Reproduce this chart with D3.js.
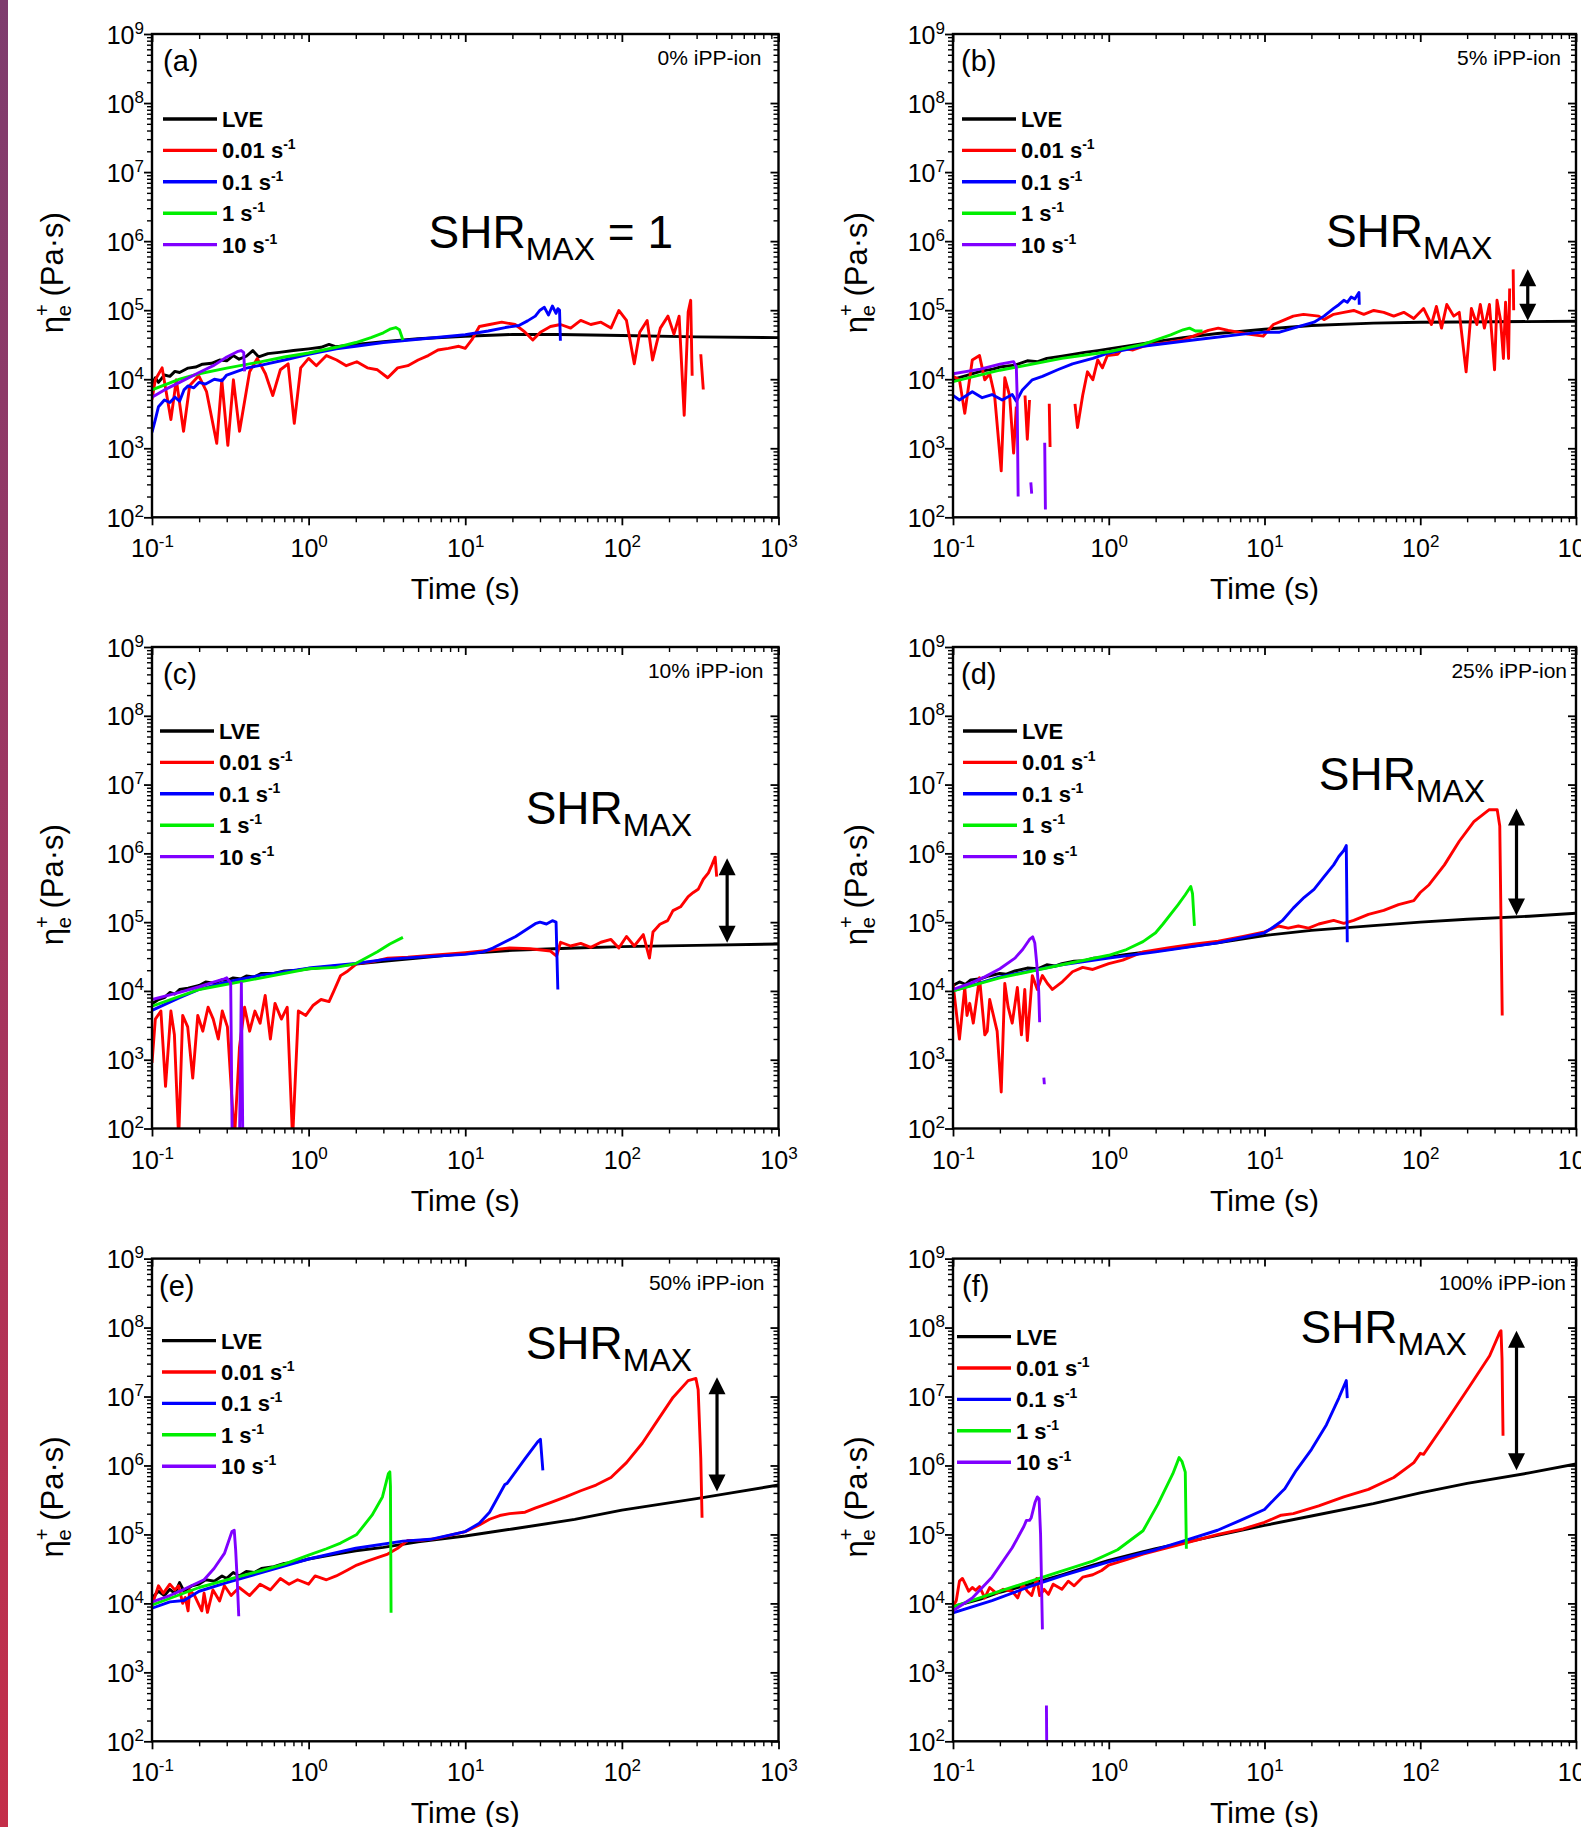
<!DOCTYPE html>
<html>
<head>
<meta charset="utf-8">
<script src="https://cdn.jsdelivr.net/npm/d3@7"></script>
<style>
  html, body { margin: 0; padding: 0; background: #fff; }
  svg { display: block; }
  text { font-family: "Liberation Sans", Arial, Helvetica, sans-serif; fill: #000; }
</style>
</head>
<body>
<svg id="fig" width="1581" height="1827"></svg>
<script>
// ---------------------------------------------------------------
// Transient extensional viscosity, eta_e+ (Pa·s) versus time (s)
// Each series: [time, viscosity]; null marks a break in the trace.
// ---------------------------------------------------------------

// axis ticks
const xExponents = [-1, 0, 1, 2, 3];
const yExponents = [2, 3, 4, 5, 6, 7, 8, 9];

// series legend
const seriesLabels = ["LVE", "0.01", "0.1", "1", "10"];
const seriesColors = ["#000000", "#ff0000", "#0000ff", "#00ee00", "#8000ff"];

// panel texts
const panelLetters = ["(a)", "(b)", "(c)", "(d)", "(e)", "(f)"];
const blendLabels = ["0% iPP-ion", "5% iPP-ion", "10% iPP-ion", "25% iPP-ion", "50% iPP-ion", "100% iPP-ion"];

// ---------- (a) 0% iPP-ion ----------
const lve_a = [[0.1,8.5e3],[0.105,1.05e4],[0.11,9e3],[0.12,1.15e4],[0.13,1.1e4],[0.14,1.3e4],[0.15,1.25e4],[0.17,1.45e4],[0.19,1.5e4],[0.21,1.65e4],[0.24,1.7e4],[0.27,1.9e4],[0.3,1.85e4],[0.33,2.2e4],[0.36,1.95e4],[0.4,2.15e4],[0.44,2.6e4],[0.48,2.1e4],[0.55,2.35e4],[0.65,2.45e4],[0.8,2.6e4],[1,2.75e4],[1.2,2.9e4],[1.35,3.2e4],[1.5,2.95e4],[2,3.2e4],[3,3.5e4],[5,3.85e4],[10,4.2e4],[20,4.45e4],[40,4.45e4],[100,4.3e4],[300,4.1e4],[1000,4.0e4]];
const rate001_a = [[0.1,5.1e3],[0.105,9.8e3],[0.116,1.46e4],[0.132,2.6e3],[0.143,9.8e3],[0.159,1.76e3],[0.174,8.1e3],[0.199,1.12e4],[0.223,6.6e3],[0.259,1.18e3],[0.279,9.8e3],[0.305,1.1e3],[0.331,9.8e3],[0.362,1.76e3],[0.42,1.28e4],[0.47,2.0e4],[0.53,1.2e4],[0.59,5.8e3],[0.66,1.37e4],[0.74,1.67e4],[0.81,2.3e3],[0.89,1.46e4],[1.0,2.0e4],[1.12,1.57e4],[1.3,2.2e4],[1.51,1.9e4],[1.74,1.57e4],[2.03,1.79e4],[2.37,1.46e4],[2.75,1.37e4],[3.2,1.05e4],[3.7,1.46e4],[4.3,1.57e4],[5.0,1.9e4],[5.8,2.2e4],[6.7,2.65e4],[7.8,2.8e4],[9.1,3.0e4],[10,2.8e4],[11,3.7e4],[12.3,5.8e4],[14.3,6.2e4],[17.1,6.7e4],[20.8,6.2e4],[24.1,4.8e4],[27,3.7e4],[30.2,4.8e4],[35,5.8e4],[40.6,6.2e4],[47.1,5.5e4],[54.6,7.1e4],[63.3,6.2e4],[73.5,6.7e4],[85.2,5.5e4],[95.6,9.9e4],[107,7.1e4],[120,1.67e4],[130,4.8e4],[145,7.1e4],[157,1.9e4],[176,5.5e4],[197,8.2e4],[215,4.5e4],[232,8.2e4],[250,3.0e3],[265,9.4e4],[275,1.39e5],[281,1.12e4],null,[319,2.3e4],[331,7.1e3]];
const rate01_a = [[0.1,1.7e3],[0.105,2.6e3],[0.11,4e3],[0.12,5e3],[0.13,4.6e3],[0.14,5.5e3],[0.15,4.8e3],[0.16,7e3],[0.17,8e3],[0.185,7.5e3],[0.2,9e3],[0.22,8.5e3],[0.25,1.0e4],[0.28,9.5e3],[0.3,1.15e4],[0.35,1.3e4],[0.4,1.45e4],[0.5,1.6e4],[0.7,1.9e4],[1,2.3e4],[1.5,2.75e4],[2,3.0e4],[3,3.4e4],[5,3.8e4],[10,4.4e4],[14,5.0e4],[18,5.6e4],[22,6.0e4],[25,7.0e4],[28,8.2e4],[30,1.0e5],[32,1.1e5],[34,8.5e4],[36,1.15e5],[38,9e4],[39,1.05e5],[40,1e5],[40.5,3.6e4]];
const rate1_a = [[0.1,7e3],[0.15,1.0e4],[0.2,1.2e4],[0.3,1.45e4],[0.5,1.8e4],[0.7,2.1e4],[1,2.4e4],[1.5,2.9e4],[2,3.4e4],[2.5,4.0e4],[3,4.7e4],[3.3,5.3e4],[3.6,5.6e4],[3.8,5.2e4],[4.0,3.7e4]];
const rate10_a = [[0.1,5.5e3],[0.12,7e3],[0.15,9e3],[0.2,1.25e4],[0.25,1.6e4],[0.3,2.1e4],[0.35,2.5e4],[0.37,2.6e4],[0.385,2.45e4],[0.39,1.3e4]];

// ---------- (b) 5% iPP-ion ----------
const lve_b = [[0.1,1.0e4],[0.12,1.12e4],[0.15,1.3e4],[0.18,1.4e4],[0.2,1.5e4],[0.25,1.6e4],[0.3,1.85e4],[0.35,1.8e4],[0.4,2.0e4],[0.5,2.15e4],[0.6,2.3e4],[0.7,2.45e4],[0.85,2.6e4],[1,2.75e4],[2,3.5e4],[3,4.0e4],[5,4.6e4],[10,5.3e4],[20,6.0e4],[50,6.5e4],[100,6.7e4],[300,6.8e4],[1000,6.9e4]];
const rate001_b = [[0.1,1.1e4],[0.11,9.8e3],[0.119,3.2e3],[0.133,1.9e4],[0.148,2.2e4],[0.16,9.8e3],[0.172,1.2e4],[0.185,5.8e3],[0.204,4.7e2],[0.215,1.05e4],[0.231,5.8e3],[0.245,8.5e2],[0.255,4.0e3],null,[0.29,5.8e3],[0.3,1.35e3],[0.31,5.0e3],null,[0.415,4.4e3],[0.42,1.04e3],null,[0.607,4.4e3],[0.63,2.0e3],[0.68,5.8e3],[0.73,1.28e4],[0.79,9.8e3],[0.85,1.9e4],[0.91,1.46e4],[0.98,2.2e4],[1.14,2.3e4],[1.23,2.8e4],[1.43,2.65e4],[1.66,3.0e4],[1.92,3.2e4],[2.39,3.4e4],[2.99,3.7e4],[3.49,4.2e4],[4.36,5.1e4],[5.05,5.5e4],[5.85,5.1e4],[6.78,4.8e4],[7.86,4.5e4],[9.8,4.2e4],[11.4,6.2e4],[13.2,7.1e4],[15.3,8.2e4],[17.8,8.7e4],[22.3,8.2e4],[24.1,7.3e4],[27.8,8.7e4],[32.3,9.3e4],[37.4,9.9e4],[43.4,8.7e4],[50.3,9.9e4],[58.3,9.3e4],[67.6,8.2e4],[78.4,9.3e4],[90.9,7.6e4],[105,1.06e5],[118,6.2e4],[127,1.13e5],[137,5.5e4],[148,1.21e5],[164,8.2e4],[178,9.3e4],[197,1.28e4],[213,1.06e5],[231,6.2e4],[243,1.21e5],[258,5.5e4],[278,1.21e5],[300,1.37e4],[311,1.39e5],[328,7.1e4],[342,2.0e4],[353,1.3e5],[369,2.0e4],[375,2.06e5],null,[395,3.9e5],[398,1.0e5]];
const rate01_b = [[0.1,5.8e3],[0.11,5.0e3],[0.133,6.6e3],[0.154,5.4e3],[0.178,6.0e3],[0.207,5.0e3],[0.24,6.0e3],[0.255,4.8e3],[0.279,7.0e3],[0.323,9.8e3],[0.375,1.1e4],[0.47,1.37e4],[0.585,1.67e4],[0.79,2.0e4],[1.0,2.4e4],[1.66,3.0e4],[3.49,3.7e4],[7.3,4.5e4],[10,4.8e4],[12.5,4.8e4],[15.3,5.5e4],[20.8,6.7e4],[24.1,8.2e4],[27.8,1.06e5],[30,1.2e5],[32.3,1.39e5],[34,1.3e5],[36,1.55e5],[38,1.45e5],[40.4,1.8e5],[40.6,1.2e5]];
const rate1_b = [[0.1,9.2e3],[0.2,1.35e4],[0.5,2.0e4],[1,2.5e4],[1.66,3.2e4],[2.5,4.4e4],[3.0,5.2e4],[3.3,5.5e4],[3.6,5.0e4],[4.0,5.0e4]];
const rate10_b = [[0.1,1.2e4],[0.15,1.4e4],[0.2,1.65e4],[0.23,1.75e4],[0.245,1.8e4],[0.255,1.5e4],[0.258,6e3],[0.262,2e2],null,[0.316,3.2e2],[0.32,2.2e2],null,[0.388,1.2e3],[0.392,1.3e2]];

// ---------- (c) 10% iPP-ion ----------
const lve_c = [[0.1,6.5e3],[0.11,7.5e3],[0.12,8e3],[0.13,9.5e3],[0.14,9e3],[0.15,1.05e4],[0.17,1.1e4],[0.2,1.2e4],[0.22,1.35e4],[0.25,1.3e4],[0.28,1.45e4],[0.3,1.4e4],[0.33,1.55e4],[0.37,1.5e4],[0.4,1.65e4],[0.45,1.6e4],[0.5,1.8e4],[0.6,1.8e4],[0.7,1.95e4],[0.85,2.0e4],[1,2.1e4],[1.5,2.3e4],[2,2.45e4],[3,2.7e4],[5,3.0e4],[10,3.5e4],[20,3.9e4],[50,4.2e4],[100,4.4e4],[300,4.6e4],[1000,4.8e4]];
const rate001_c = [[0.1,9e2],[0.105,3.9e3],[0.114,5.1e3],[0.122,4.1e2],[0.132,5.1e3],[0.139,2.3e3],[0.148,7e1],[0.157,4.4e3],[0.169,3.0e3],[0.182,5.4e2],[0.196,4.4e3],[0.211,2.6e3],[0.228,5.8e3],[0.246,3.9e3],[0.265,2.0e3],[0.281,5.1e3],[0.303,3.0e3],[0.336,7e1],[0.362,1.54e3],[0.39,5.8e3],[0.42,2.6e3],[0.454,5.1e3],[0.49,3.4e3],[0.528,8.6e3],[0.57,2.0e3],[0.61,6.6e3],[0.67,3.9e3],[0.73,5.8e3],[0.79,7e1],[0.86,5.1e3],[0.96,4.4e3],[1.07,6.2e3],[1.2,7.5e3],[1.35,7.0e3],[1.45,1.0e4],[1.6,1.67e4],[1.75,1.9e4],[2.03,2.5e4],[2.54,2.65e4],[3.2,3.0e4],[4.3,3.1e4],[6.2,3.3e4],[10,3.6e4],[14.3,3.9e4],[19.2,4.2e4],[26,4.1e4],[35,3.8e4],[38.3,3.2e4],[40.6,5.1e4],[47.1,4.5e4],[54.6,4.9e4],[63.3,4.3e4],[73.5,5.1e4],[85.2,5.6e4],[95.6,4.2e4],[107,6.2e4],[120,4.5e4],[137,6.6e4],[150,3.0e4],[158,7.2e4],[175,9.3e4],[196,1.05e5],[212,1.47e5],[237,1.67e5],[265,2.35e5],[286,2.7e5],[307,3.0e5],[331,4.2e5],[357,5.2e5],[376,6.8e5],[394,8.8e5],[403,4.6e5]];
const rate01_c = [[0.1,5.2e3],[0.15,8e3],[0.2,1.05e4],[0.3,1.35e4],[0.5,1.7e4],[1,2.15e4],[2,2.5e4],[3,2.85e4],[5,3.1e4],[10,3.4e4],[13,3.7e4],[15,4.2e4],[18,5.2e4],[21,6.2e4],[25,8e4],[28,9.5e4],[30,1.0e5],[33,9.4e4],[36,1.05e5],[38,1e5],[39,1.05e4]];
const rate1_c = [[0.1,6e3],[0.2,1.05e4],[0.5,1.55e4],[1,2.1e4],[1.5,2.2e4],[2,2.5e4],[2.75,3.7e4],[3.3,4.8e4],[4,6.0e4]];
const rate10_c = [[0.1,7.5e3],[0.15,9.5e3],[0.2,1.15e4],[0.25,1.35e4],[0.29,1.5e4],[0.3,1.55e4],[0.318,1.3e4],[0.325,7e1],null,[0.362,7e1],[0.372,1.3e4],[0.38,7e1]];

// ---------- (d) 25% iPP-ion ----------
const lve_d = [[0.1,1.2e4],[0.11,1.35e4],[0.12,1.25e4],[0.13,1.45e4],[0.15,1.5e4],[0.17,1.65e4],[0.2,1.8e4],[0.22,1.75e4],[0.25,1.95e4],[0.3,2.15e4],[0.35,2.1e4],[0.4,2.4e4],[0.45,2.3e4],[0.5,2.5e4],[0.6,2.7e4],[0.7,2.75e4],[0.8,3.0e4],[1,3.1e4],[1.3,3.4e4],[1.6,3.6e4],[2,3.8e4],[3,4.3e4],[5,5.0e4],[10,6.4e4],[20,7.6e4],[50,8.9e4],[100,1.0e5],[200,1.1e5],[500,1.22e5],[1000,1.35e5]];
const rate001_d = [[0.1,1.28e4],[0.11,2.0e3],[0.119,1.12e4],[0.123,4.4e3],[0.128,6.6e3],[0.135,3.4e3],[0.148,1.56e4],[0.16,2.3e3],[0.166,2.6e3],[0.172,7.5e3],[0.178,5.4e3],[0.192,2.6e3],[0.204,3.4e2],[0.215,1.28e4],[0.226,5.8e3],[0.24,3.4e3],[0.259,1.12e4],[0.275,2.3e3],[0.289,1.05e4],[0.3,1.9e3],[0.323,1.67e4],[0.348,1.05e4],[0.375,1.67e4],[0.404,1.28e4],[0.435,1.05e4],[0.505,1.37e4],[0.585,1.9e4],[0.68,2.2e4],[0.79,2.05e4],[1.0,2.5e4],[1.23,2.8e4],[1.66,3.7e4],[2.39,4.2e4],[3.49,4.8e4],[5.05,5.3e4],[7.3,6.2e4],[10,7.2e4],[12.3,8.8e4],[14.2,8.2e4],[16.5,8.8e4],[19.2,8.2e4],[22.3,9.4e4],[27.8,1.06e5],[32.3,9.6e4],[37.4,1.06e5],[46.5,1.3e5],[58.3,1.48e5],[72.5,1.8e5],[90.9,2.06e5],[100,2.7e5],[114,3.5e5],[143,6.8e5],[178,1.5e6],[221,2.9e6],[276,4.3e6],[312,4.3e6],[324,2.5e6],[336,4.4e3]];
const rate01_d = [[0.1,1.0e4],[0.2,1.6e4],[0.5,2.4e4],[1,3.0e4],[2,3.7e4],[5,5e4],[10,7.0e4],[11.4,8.5e4],[13,1.05e5],[15.3,1.6e5],[18,2.3e5],[20.8,3.0e5],[24,4.5e5],[27.8,6.8e5],[30,9e5],[32.3,1.1e6],[33.5,1.3e6],[34,5.1e4]];
const rate1_d = [[0.1,1.0e4],[0.2,1.55e4],[0.5,2.4e4],[1,3.3e4],[1.3,4.0e4],[1.66,5.2e4],[2.0,7.0e4],[2.23,9.4e4],[2.79,1.8e5],[3.1,2.5e5],[3.36,3.3e5],[3.45,2.6e5],[3.5,1.5e5],[3.55,8.8e4]];
const rate10_d = [[0.1,1.05e4],[0.13,1.3e4],[0.16,1.6e4],[0.2,2.1e4],[0.25,3.0e4],[0.28,4.0e4],[0.31,5.6e4],[0.325,6.1e4],[0.335,5.0e4],[0.345,2.5e4],[0.355,1.0e4],[0.36,3.5e3],null,[0.383,5.5e2],[0.386,4.4e2]];

// ---------- (e) 50% iPP-ion ----------
const lve_e = [[0.1,1.2e4],[0.11,1.5e4],[0.12,1.3e4],[0.13,1.6e4],[0.14,1.4e4],[0.15,2.0e4],[0.16,1.5e4],[0.18,1.8e4],[0.2,1.9e4],[0.22,2.2e4],[0.25,2.1e4],[0.28,2.5e4],[0.3,2.3e4],[0.33,2.8e4],[0.36,2.5e4],[0.4,2.9e4],[0.45,2.8e4],[0.5,3.2e4],[0.6,3.4e4],[0.7,3.8e4],[0.85,4.0e4],[1,4.4e4],[1.3,4.9e4],[1.6,5.3e4],[2,5.8e4],[3,6.5e4],[5,7.8e4],[10,9.5e4],[20,1.2e5],[50,1.65e5],[100,2.25e5],[300,3.3e5],[500,4.0e5],[1000,5.2e5]];
const rate001_e = [[0.1,9.5e3],[0.105,1.3e4],[0.11,1.8e4],[0.118,1.4e4],[0.13,1.9e4],[0.14,1.57e4],[0.148,1.8e4],[0.157,1.0e4],[0.163,1.22e4],[0.17,7.8e3],[0.174,1.57e4],[0.187,1.3e4],[0.208,7.8e3],[0.215,1.4e4],[0.226,7.4e3],[0.245,1.57e4],[0.27,1.08e4],[0.29,1.8e4],[0.32,1.3e4],[0.36,1.7e4],[0.42,1.3e4],[0.49,1.9e4],[0.57,1.57e4],[0.66,2.3e4],[0.75,1.9e4],[0.85,2.2e4],[1.0,1.9e4],[1.1,2.5e4],[1.3,2.2e4],[1.5,2.5e4],[1.75,3.0e4],[2.03,3.6e4],[2.37,4.1e4],[2.75,4.6e4],[3.2,5.2e4],[3.7,6.3e4],[4.3,8.2e4],[5.2,8.2e4],[6.5,8.7e4],[10,1.1e5],[12.3,1.37e5],[14.3,1.66e5],[16.6,1.88e5],[19.2,2.0e5],[24.1,2.1e5],[27.9,2.4e5],[35,2.9e5],[43.8,3.5e5],[54.6,4.3e5],[68.4,5.2e5],[85.2,6.7e5],[107,1.1e6],[135,2.1e6],[169,4.5e6],[212,9.7e6],[265,1.7e7],[297,1.83e7],[307,1.25e7],[319,1.27e6],[325,1.75e5]];
const rate01_e = [[0.1,8.5e3],[0.13,1.05e4],[0.16,1.1e4],[0.2,1.5e4],[0.3,2.0e4],[0.5,2.8e4],[1,4.4e4],[2,6.3e4],[4,8.0e4],[6,8.5e4],[10,1.1e5],[12.3,1.45e5],[14.3,2.1e5],[17.9,5.3e5],[18.5,5.5e5],[24.1,1.26e6],[29,2.2e6],[30.2,2.4e6],[31.3,8.5e5]];
const rate1_e = [[0.1,9.5e3],[0.2,1.7e4],[0.3,2.2e4],[0.5,3.0e4],[0.7,3.7e4],[1,5.0e4],[1.3,6.2e4],[1.6,7.5e4],[2.03,1.0e5],[2.54,1.9e5],[2.96,3.5e5],[3.23,7.6e5],[3.3,8.1e5],[3.33,5e5],[3.36,7.3e3]];
const rate10_e = [[0.1,1.05e4],[0.13,1.3e4],[0.16,1.6e4],[0.215,2.2e4],[0.249,3.2e4],[0.29,5.3e4],[0.324,1.1e5],[0.335,1.15e5],[0.342,6e4],[0.35,2.2e4],[0.358,6.5e3]];

// ---------- (f) 100% iPP-ion ----------
const lve_f = [[0.1,9.0e3],[0.15,1.15e4],[0.2,1.45e4],[0.3,1.85e4],[0.5,2.6e4],[0.7,3.3e4],[1,4.2e4],[1.5,5.3e4],[2,6.2e4],[3.2,7.8e4],[5,9.7e4],[10,1.35e5],[20,1.85e5],[50,2.8e5],[100,4.0e5],[200,5.5e5],[500,7.8e5],[1000,1.05e6]];
const rate001_f = [[0.1,8.9e3],[0.105,1.1e4],[0.11,2.1e4],[0.115,2.3e4],[0.12,1.9e4],[0.126,1.5e4],[0.133,1.7e4],[0.14,1.55e4],[0.148,1.75e4],[0.16,1.2e4],[0.172,1.7e4],[0.19,1.4e4],[0.21,1.6e4],[0.24,1.5e4],[0.26,1.2e4],[0.28,1.9e4],[0.3,1.5e4],[0.32,1.3e4],[0.345,2.3e4],[0.36,1.3e4],[0.385,1.6e4],[0.41,1.35e4],[0.44,1.9e4],[0.5,1.6e4],[0.55,2.1e4],[0.6,1.8e4],[0.68,2.4e4],[0.79,2.6e4],[0.9,3.0e4],[1,3.6e4],[1.3,4.3e4],[1.66,5.2e4],[2.3,6.3e4],[3.24,7.7e4],[5.05,1.0e5],[7.3,1.2e5],[10,1.5e5],[12.8,1.9e5],[15.3,2.0e5],[22.3,2.6e5],[32.3,3.5e5],[46.5,4.5e5],[67.6,6.7e5],[91,1.1e6],[100,1.5e6],[105,1.45e6],[143,4e6],[207,1.4e7],[279,3.9e7],[324,8.5e7],[330,9e7],[335,3.5e7],[340,2.7e6]];
const rate01_f = [[0.1,7.3e3],[0.178,1.1e4],[0.3,1.7e4],[0.5,2.5e4],[1,4.0e4],[2,6.0e4],[3,8e4],[5,1.15e5],[7,1.6e5],[10,2.3e5],[12.8,4.1e5],[13.5,4.6e5],[16,8.5e5],[20,1.7e6],[25,3.9e6],[30,9.5e6],[33.5,1.7e7],[34,9.5e6]];
const rate1_f = [[0.1,8.9e3],[0.2,1.5e4],[0.4,2.5e4],[0.79,4.1e4],[1.14,6.0e4],[1.66,1.13e5],[2.07,2.75e5],[2.58,7.6e5],[2.83,1.3e6],[2.95,1.15e6],[3.1,8e5],[3.15,6.2e4]];
const rate10_f = [[0.1,7.8e3],[0.133,1.2e4],[0.178,2.4e4],[0.24,6.4e4],[0.285,1.3e5],[0.296,1.6e5],[0.31,1.6e5],[0.318,1.75e5],[0.336,2.9e5],[0.348,3.5e5],[0.357,3.3e5],[0.365,1e5],[0.375,4.2e3],null,[0.398,3.3e2],[0.4,7e1]];

// SHR_MAX annotations: text anchor [time, viscosity]; arrow [time, lower, upper]
const shrTextAnchors = [[5.83,7.9e5],[24.8,8.2e5],[24.3,2.7e6],[22.3,8.3e6],[24.3,3.5e7],[17.0,5.9e7]];
const shrArrows = [null,[490,7e4,3.9e5],[470,5e4,8.5e5],[415,1.25e5,4.5e6],[405,4.2e5,1.9e7],[415,8.5e5,9e7]];

// ---------------------------------------------------------------
// layout (pixels)
// ---------------------------------------------------------------
const colX = [[152, 778.5], [953, 1576]];
const rowY = [[34, 517.3], [647, 1128.5], [1258.6, 1741.3]];
const legendDx = [11, 9, 8, 10, 10, 4];
const legendDy = [85, 85, 84, 84, 82, 78];
const letterDx = [11, 8, 11, 8, 7, 9];
const blendDx = [17, 15, 15, 9, 14, 10];
const yTitleDx = [89, 86];

const panelSeries = [
  [lve_a, rate001_a, rate01_a, rate1_a, rate10_a],
  [lve_b, rate001_b, rate01_b, rate1_b, rate10_b],
  [lve_c, rate001_c, rate01_c, rate1_c, rate10_c],
  [lve_d, rate001_d, rate01_d, rate1_d, rate10_d],
  [lve_e, rate001_e, rate01_e, rate1_e, rate10_e],
  [lve_f, rate001_f, rate01_f, rate1_f, rate10_f]
];

const svg = d3.select("#fig");
svg.append("rect").attr("width", 1581).attr("height", 1827).attr("fill", "#fff");

// slide edge strip on the left
const defs = svg.append("defs");
const grad = defs.append("linearGradient").attr("id", "edgeStrip")
  .attr("x1", 0).attr("y1", 0).attr("x2", 0).attr("y2", 1);
grad.append("stop").attr("offset", "0%").attr("stop-color", "#7e3c6e");
grad.append("stop").attr("offset", "50%").attr("stop-color", "#a23560");
grad.append("stop").attr("offset", "100%").attr("stop-color", "#c42e49");
svg.append("rect").attr("x", 0).attr("y", 0).attr("width", 8).attr("height", 1827).attr("fill", "url(#edgeStrip)");

const xMajor = xExponents.map(e => Math.pow(10, e));
const yMajor = yExponents.map(e => Math.pow(10, e));
const xMinor = [];
for (let e = -1; e < 3; e++) for (let k = 2; k <= 9; k++) xMinor.push(k * Math.pow(10, e));
const yMinor = [];
for (let e = 2; e < 9; e++) for (let k = 2; k <= 9; k++) yMinor.push(k * Math.pow(10, e));

function styleAxis(g, width) {
  g.select(".domain").remove();
  g.selectAll(".tick line").attr("stroke", "#000").attr("stroke-width", width);
  g.selectAll(".tick text").remove();
}

function addPow(textSel, exp, supSize, supDy) {
  textSel.append("tspan").text("10");
  textSel.append("tspan").attr("font-size", supSize).attr("dy", supDy).text(String(exp));
}

panelSeries.forEach((series, p) => {
  const col = p % 2, row = Math.floor(p / 2);
  const [L, R] = colX[col];
  const [T, B] = rowY[row];

  const x = d3.scaleLog().domain([0.1, 1000]).range([L, R]);
  const y = d3.scaleLog().domain([100, 1e9]).range([B, T]);

  const g = svg.append("g").attr("class", "panel");

  // clip region for traces
  const clipId = "clip" + p;
  defs.append("clipPath").attr("id", clipId)
    .append("rect").attr("x", L).attr("y", T).attr("width", R - L).attr("height", B - T);

  // traces
  const line = d3.line()
    .defined(d => d !== null)
    .x(d => x(d[0]))
    .y(d => y(d[1]));
  const traces = g.append("g").attr("clip-path", `url(#${clipId})`);
  series.forEach((s, i) => {
    traces.append("path")
      .datum(s)
      .attr("fill", "none")
      .attr("stroke", seriesColors[i])
      .attr("stroke-width", 2.9)
      .attr("stroke-linejoin", "round")
      .attr("d", line);
  });

  // axes: outward ticks on bottom/left, inward ticks on top/right
  const axB = g.append("g").attr("transform", `translate(0,${B})`);
  axB.call(d3.axisBottom(x).tickValues(xMajor).tickSizeInner(8).tickSizeOuter(0).tickFormat(""));
  styleAxis(axB, 1.8);
  const axBm = g.append("g").attr("transform", `translate(0,${B})`);
  axBm.call(d3.axisBottom(x).tickValues(xMinor).tickSizeInner(5).tickSizeOuter(0).tickFormat(""));
  styleAxis(axBm, 1.4);

  const axT = g.append("g").attr("transform", `translate(0,${T})`);
  axT.call(d3.axisBottom(x).tickValues(xMajor).tickSizeInner(8).tickSizeOuter(0).tickFormat(""));
  styleAxis(axT, 1.8);
  const axTm = g.append("g").attr("transform", `translate(0,${T})`);
  axTm.call(d3.axisBottom(x).tickValues(xMinor).tickSizeInner(5).tickSizeOuter(0).tickFormat(""));
  styleAxis(axTm, 1.4);

  const axL = g.append("g").attr("transform", `translate(${L},0)`);
  axL.call(d3.axisLeft(y).tickValues(yMajor).tickSizeInner(8).tickSizeOuter(0).tickFormat(""));
  styleAxis(axL, 1.8);
  const axLm = g.append("g").attr("transform", `translate(${L},0)`);
  axLm.call(d3.axisLeft(y).tickValues(yMinor).tickSizeInner(5).tickSizeOuter(0).tickFormat(""));
  styleAxis(axLm, 1.4);

  const axR = g.append("g").attr("transform", `translate(${R},0)`);
  axR.call(d3.axisLeft(y).tickValues(yMajor).tickSizeInner(8).tickSizeOuter(0).tickFormat(""));
  styleAxis(axR, 1.8);
  const axRm = g.append("g").attr("transform", `translate(${R},0)`);
  axRm.call(d3.axisLeft(y).tickValues(yMinor).tickSizeInner(5).tickSizeOuter(0).tickFormat(""));
  styleAxis(axRm, 1.4);

  // frame
  g.append("rect").attr("x", L).attr("y", T).attr("width", R - L).attr("height", B - T)
    .attr("fill", "none").attr("stroke", "#000").attr("stroke-width", 2.4);

  // tick labels
  axB.selectAll(".tick").each(function (d, i) {
    const t = d3.select(this).append("text")
      .attr("x", 0).attr("y", 40).attr("text-anchor", "middle")
      .attr("font-size", 25);
    addPow(t, xExponents[i], 17, -10);
  });
  axL.selectAll(".tick").each(function (d, i) {
    const t = d3.select(this).append("text")
      .attr("x", -8).attr("y", 9).attr("text-anchor", "end")
      .attr("font-size", 25);
    addPow(t, yExponents[i], 17, -10);
  });

  // axis titles
  g.append("text")
    .attr("x", (L + R) / 2).attr("y", B + 82)
    .attr("text-anchor", "middle").attr("font-size", 30)
    .text("Time (s)");

  const yt = g.append("text")
    .attr("transform", `translate(${L - yTitleDx[col]},${(T + B) / 2 - 3}) rotate(-90)`)
    .attr("text-anchor", "middle").attr("font-size", 31);
  yt.append("tspan").text("η");
  yt.append("tspan").attr("font-size", 20).attr("dy", -14).text("+");
  yt.append("tspan").attr("font-size", 20).attr("dx", -12).attr("dy", 22).text("e");
  yt.append("tspan").attr("dy", -8).text(" (Pa·s)");

  // panel letter and blend label
  g.append("text").attr("x", L + letterDx[p]).attr("y", T + 37)
    .attr("font-size", 29).text(panelLetters[p]);
  g.append("text").attr("x", R - blendDx[p]).attr("y", T + 31)
    .attr("text-anchor", "end").attr("font-size", 21).text(blendLabels[p]);

  // legend
  const lg = g.append("g").attr("transform", `translate(${L + legendDx[p]},${T + legendDy[p]})`);
  seriesLabels.forEach((lab, i) => {
    const yy = i * 31.4;
    lg.append("line").attr("x1", 0).attr("x2", 54).attr("y1", yy).attr("y2", yy)
      .attr("stroke", seriesColors[i]).attr("stroke-width", 3.4);
    const t = lg.append("text").attr("x", 59).attr("y", yy + 8)
      .attr("font-size", 22).attr("font-weight", "bold");
    if (i === 0) {
      t.text(lab);
    } else {
      t.append("tspan").text(lab + " s");
      t.append("tspan").attr("font-size", 14).attr("dy", -9).text("-1");
    }
  });

  // SHR_MAX annotation
  const [st, sv] = shrTextAnchors[p];
  const shr = g.append("text").attr("x", x(st)).attr("y", y(sv)).attr("font-size", 46);
  shr.append("tspan").text("SHR");
  shr.append("tspan").attr("font-size", 32).attr("dy", 12).text("MAX");
  if (p === 0) shr.append("tspan").attr("dy", -12).text(" = 1");

  const arr = shrArrows[p];
  if (arr) {
    const ax = x(arr[0]), yLo = y(arr[1]), yHi = y(arr[2]);
    const hw = 8.5, hl = 17;
    g.append("line").attr("x1", ax).attr("x2", ax)
      .attr("y1", yHi + hl - 2).attr("y2", yLo - hl + 2)
      .attr("stroke", "#000").attr("stroke-width", 3.2);
    g.append("path").attr("fill", "#000")
      .attr("d", `M${ax},${yHi} L${ax - hw},${yHi + hl} L${ax + hw},${yHi + hl} Z`);
    g.append("path").attr("fill", "#000")
      .attr("d", `M${ax},${yLo} L${ax - hw},${yLo - hl} L${ax + hw},${yLo - hl} Z`);
  }
});
</script>
</body>
</html>
